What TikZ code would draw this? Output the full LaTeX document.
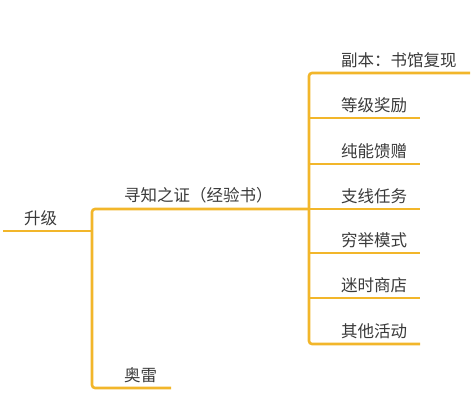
\documentclass[tikz,border=0pt]{standalone}
\usepackage{fontspec}
\newfontfamily\cjk{Noto Sans CJK SC}
\definecolor{branch}{HTML}{F2B62A}
\definecolor{txt}{HTML}{3A3A3A}
\tikzset{
  lbl/.style={font=\cjk\fontsize{16.5}{19}\selectfont, text=txt, inner sep=0pt, anchor=west},
  br/.style={draw=branch, line width=2.6pt, rounded corners=3pt, line cap=butt},
}
\begin{document}
\begin{tikzpicture}[x=1pt,y=-1pt]
\useasboundingbox (0,0) rectangle (474,418);
% coordinates
\coordinate (r0) at (3,231);
\coordinate (r1) at (92,231);
\coordinate (t1) at (92,209);
\coordinate (b1) at (92,388);
\coordinate (a1) at (309,209);
\coordinate (o1) at (171,388);
\coordinate (s0) at (309,73);
\coordinate (s6) at (309,344);
\coordinate (e0) at (470,73);
\foreach \i/\y in {1/118,2/164,3/209,4/253,5/298,6/344}{
  \coordinate (m\i) at (309,\y);
  \coordinate (e\i) at (420,\y);
}
% labels
\node[lbl] (root) at (24,218) {升级};
\node[lbl] (xz) at (124,195) {寻知之证（经验书）};
\node[lbl] (ol) at (124,375) {奥雷};
\node[lbl] (n0) at (341,60) {副本：书馆复现};
\node[lbl] (n1) at (341,105) {等级奖励};
\node[lbl] (n2) at (341,151) {纯能馈赠};
\node[lbl] (n3) at (341,196) {支线任务};
\node[lbl] (n4) at (341,240) {穷举模式};
\node[lbl] (n5) at (341,285) {迷时商店};
\node[lbl] (n6) at (341,331) {其他活动};
% branches
\draw[br] (r0) -- (r1);
\draw[br] (a1) -- (t1) -- (b1) -- (o1);
\draw[br] (e0) -- (s0) -- (s6) -- (e6);
\foreach \i in {1,...,5}{ \draw[br] (m\i) -- (e\i); }
\end{tikzpicture}
\end{document}
